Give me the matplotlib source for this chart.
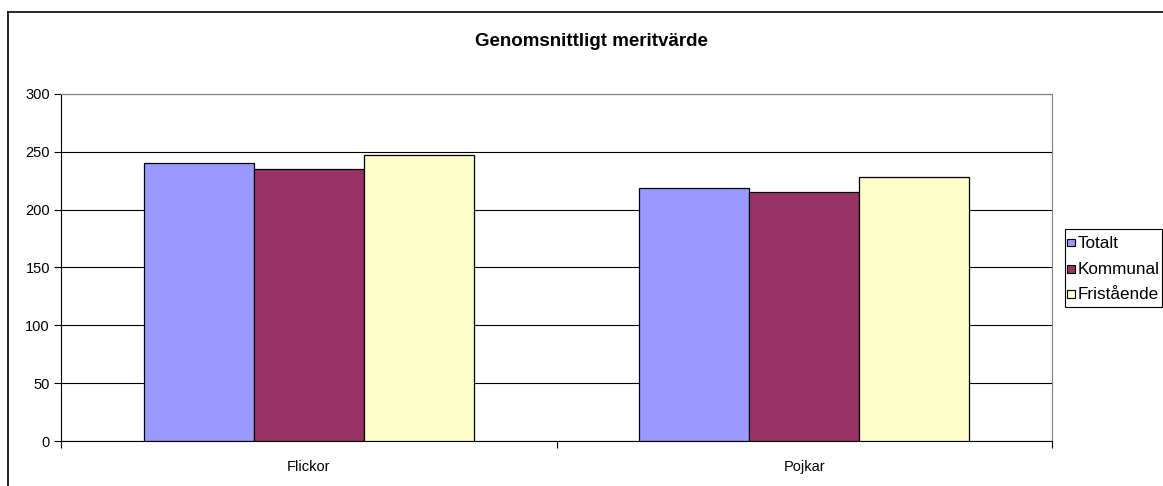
import matplotlib
matplotlib.use("Agg")
import matplotlib.pyplot as plt
import numpy as np
from matplotlib.patches import Rectangle
from matplotlib.lines import Line2D

plt.rcParams['font.family'] = ['Liberation Sans', 'DejaVu Sans']

categories = ["Flickor", "Pojkar"]
series_names = ["Totalt", "Kommunal", "Fristående"]
totalt = [240, 219]
kommunal = [235, 215]
fristaende = [247, 228]
colors = ["#9999FF", "#993366", "#FFFFCC"]
title = "Genomsnittligt meritvärde"

W, H = 1163, 486
fig = plt.figure(figsize=(W / 100, H / 100), dpi=100)
ax = fig.add_axes([61 / W, 1 - 441 / H, (1052 - 61) / W, (441 - 94) / H])

values = [totalt, kommunal, fristaende]
x = np.arange(len(categories))
bw = 1 / 4.5
for i, (vals, c) in enumerate(zip(values, colors)):
    ax.bar(x + (i - 1) * bw, vals, width=bw, color=c, edgecolor="black",
           linewidth=0.9, zorder=3, label=series_names[i])

ax.set_xlim(-0.5, len(categories) - 0.5)
ax.set_ylim(0, 300)
ax.set_yticks(np.arange(0, 301, 50))
ax.yaxis.grid(True, color="black", linewidth=0.8, zorder=0)
ax.set_axisbelow(True)

ax.set_xticks(x)
ax.set_xticklabels(categories, fontsize=10.5)
ax.set_xticks(np.arange(-0.5, len(categories)), minor=True)
ax.tick_params(axis="x", which="major", length=0, pad=14)
ax.tick_params(axis="x", which="minor", length=5, width=0.8, color="black")
ax.tick_params(axis="y", length=5, width=0.8, labelsize=10.5, pad=3)

for s in ["top", "right"]:
    ax.spines[s].set_color("#808080")
    ax.spines[s].set_linewidth(0.8)
for s in ["left", "bottom"]:
    ax.spines[s].set_color("black")
    ax.spines[s].set_linewidth(0.8)

fig.text(591 / W, 1 - 42 / H, title, ha="center", va="center",
         fontsize=13.5, fontweight="bold")

# legend (drawn in figure pixel coordinates)
def fx(px):
    return px / W

def fy(py):
    return 1 - py / H

fig.add_artist(Rectangle((fx(1065), fy(307)), fx(1162) - fx(1065), fy(229) - fy(307),
                         facecolor="white", edgecolor="black", linewidth=0.8,
                         transform=fig.transFigure))
row_y = [243, 269, 294]
for name, c, ry in zip(series_names, colors, row_y):
    fig.add_artist(Rectangle((fx(1067), fy(ry + 3.5)), fx(7.5), 7.5 / H,
                             facecolor=c, edgecolor="black", linewidth=0.8,
                             transform=fig.transFigure))
    fig.text(fx(1077.5), fy(ry), name, ha="left", va="center", fontsize=12.3)

# outer chart border
fig.add_artist(Line2D([8 / W, 8 / W], [-0.01, 1 - 12 / H], color="black",
                      linewidth=1.2, transform=fig.transFigure))
fig.add_artist(Line2D([8 / W, 1.01], [1 - 12 / H, 1 - 12 / H], color="black",
                      linewidth=1.2, transform=fig.transFigure))

fig.savefig("out.png", dpi=100)
